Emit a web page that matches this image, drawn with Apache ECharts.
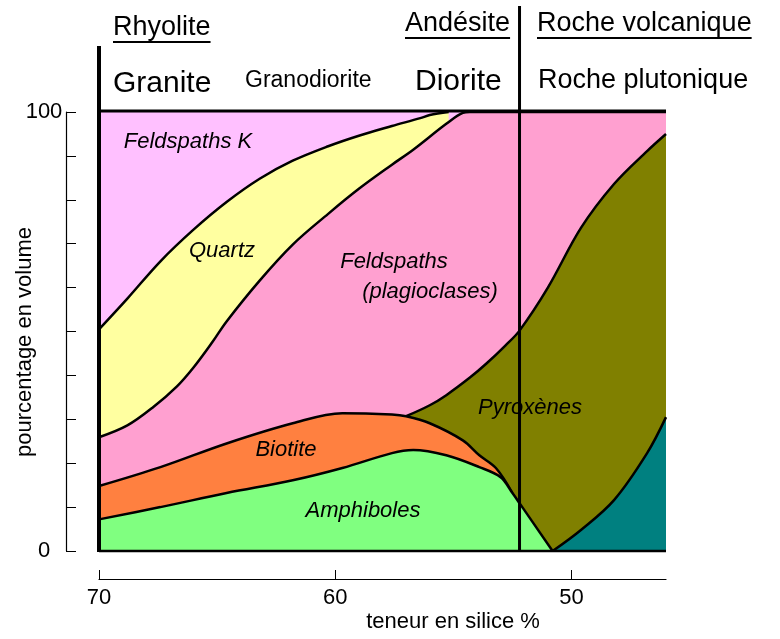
<!DOCTYPE html>
<html>
<head>
<meta charset="utf-8">
<title>Composition minéralogique des roches magmatiques</title>
<script src="https://cdn.jsdelivr.net/npm/echarts@6/dist/echarts.min.js"></script>
<style>
  html, body { margin: 0; padding: 0; background: #fff; }
  #main { width: 780px; height: 639px; }
</style>
</head>
<body>
<div id="main"></div>
<script>
// limites supérieures cumulées : [teneur en silice %, pourcentage en volume]
const feldspathKTop = [[70, 100], [46, 100]];
const quartzTop = [[70, 50.5], [68.8, 57.5], [67.4, 66], [66, 73.2], [64.6, 79.5], [63.2, 84.8], [61.8, 88.9],
  [60.3, 92.2], [59, 94.6], [57.6, 96.8], [56.4, 98.6], [56, 99.3], [55.2, 100]];
const plagioclaseTop = [[70, 25.9], [68.8, 28.6], [67.7, 32.8], [66.7, 37.5], [66, 41.8], [65.2, 47.6], [64.6, 52.3],
  [63.2, 61.6], [61.8, 69.8], [60.3, 76.8], [59, 82.5], [57.6, 88], [56.7, 91.4], [55.3, 97.3], [54.6, 99.8],
  [54.3, 100], [46, 100]];
const pyroxeneTop = [[57, 30.7], [56, 33.2], [55.3, 35.5], [54.3, 39.5], [53.6, 42.7], [52.8, 46.8], [52.2, 50.2],
  [51, 60], [49.6, 73.6], [48.2, 83.6], [46.8, 91.1], [46, 95]];
const biotiteTop = [[70, 14.8], [67.4, 19.1], [64.6, 24.5], [61.8, 29.1], [59.7, 31.4], [57.6, 31.1], [57, 30.7],
  [56, 29.1], [54.6, 25.2], [53.9, 21.8], [53.2, 18.9], [52.5, 13.2]];
const amphiboleTop = [[70, 7.2], [67.4, 10], [64.6, 13.2], [61.8, 16.1], [59.7, 18.9], [57.6, 22.3], [56.7, 23],
  [55.3, 21.8], [53.9, 19.1], [53, 16.8], [52.5, 13.2], [52.2, 10.9], [50.8, 0]];
const olivineTop = [[50.8, 0], [49.6, 4.8], [48.2, 11.6], [46.8, 22.3], [46, 30.5]];

const silicaTicks = [50, 60, 70];
const separatorSilica = 52.2;

const FONT = '"Liberation Sans", Arial, sans-serif';

function layer(name, data, color, z, lineWidth) {
  return {
    name: name,
    type: 'line',
    data: data,
    smooth: 0.35,
    symbol: 'none',
    z: z,
    lineStyle: { color: '#000', width: lineWidth },
    areaStyle: { color: color, opacity: 1 },
    silent: true
  };
}

const chart = echarts.init(document.getElementById('main'));
chart.setOption({
  animation: false,
  backgroundColor: '#fff',
  grid: { left: 99, right: 114, top: 112, bottom: 88, outerBoundsMode: 'none' },
  xAxis: {
    type: 'value', min: 46, max: 70, inverse: true, offset: 28,
    splitLine: { show: false },
    axisLine: { show: true, onZero: false, lineStyle: { color: '#000', width: 1.2 } },
    axisTick: { show: true, inside: true, length: 9, customValues: silicaTicks, lineStyle: { color: '#000' } },
    axisLabel: { customValues: silicaTicks, color: '#000', fontSize: 22, fontFamily: FONT, margin: 8 }
  },
  yAxis: {
    type: 'value', min: 0, max: 100, interval: 10, offset: 33,
    splitLine: { show: false },
    axisLine: { show: true, onZero: false, lineStyle: { color: '#000', width: 1.2 } },
    axisTick: { show: true, inside: true, length: 10, lineStyle: { color: '#000' } },
    axisLabel: {
      color: '#000', fontSize: 22, fontFamily: FONT, margin: 22, align: 'center', padding: [8, 0, 0, 0],
      formatter: v => (v === 0 || v === 100) ? String(v) : ''
    }
  },
  series: [
    layer('Feldspaths K', feldspathKTop, '#ffc0ff', 1, 0),
    layer('Quartz', quartzTop, '#ffffa0', 2, 2.5),
    layer('Feldspaths (plagioclases)', plagioclaseTop, '#ffa0d0', 3, 2.5),
    layer('Pyroxènes', pyroxeneTop, '#808000', 4, 2.5),
    layer('Biotite', biotiteTop, '#ff8040', 5, 2.5),
    layer('Amphiboles', amphiboleTop, '#80ff80', 6, 2.5),
    layer('Olivine', olivineTop, '#008080', 7, 2.5)
  ]
});

// positions en pixels tirées des axes
const xPx = v => chart.convertToPixel({ xAxisIndex: 0 }, v);
const yPx = v => chart.convertToPixel({ yAxisIndex: 0 }, v);
const plotLeft = xPx(70), plotRight = xPx(46), plotTop = yPx(100), plotBottom = yPx(0);
const sepX = xPx(separatorSilica);

const measureCtx = document.createElement('canvas').getContext('2d');
function textWidth(t, size) {
  measureCtx.font = size + 'px ' + FONT;
  return measureCtx.measureText(t).width;
}

const headers = [
  { text: 'Rhyolite', x: 113, y: 28, size: 27, underline: 42 },
  { text: 'Granite', x: 113, y: 84, size: 30 },
  { text: 'Granodiorite', x: 245, y: 81, size: 23 },
  { text: 'Andésite', x: 405, y: 24, size: 27, underline: 38 },
  { text: 'Diorite', x: 415, y: 82, size: 30 },
  { text: 'Roche volcanique', x: 537, y: 24, size: 27, underline: 38 },
  { text: 'Roche plutonique', x: 538, y: 81, size: 27 }
];
const regionLabels = [
  { text: 'Feldspaths K', x: 188, y: 142 },
  { text: 'Quartz', x: 222, y: 251 },
  { text: 'Feldspaths', x: 394, y: 262 },
  { text: '(plagioclases)', x: 430, y: 292 },
  { text: 'Biotite', x: 286, y: 450 },
  { text: 'Amphiboles', x: 363, y: 511 },
  { text: 'Pyroxènes', x: 530, y: 408 }
];

const graphics = [];
const addLine = (x1, y1, x2, y2, w) => graphics.push({
  type: 'line', z: 100, silent: true,
  shape: { x1: x1, y1: y1, x2: x2, y2: y2 },
  style: { stroke: '#000', lineWidth: w }
});

addLine(plotLeft, 46, plotLeft, plotBottom + 1, 4);
addLine(plotLeft - 2, plotTop - 1, plotRight, plotTop - 1, 3);
addLine(plotLeft, plotBottom, plotRight, plotBottom, 2.5);
addLine(sepX, 6, sepX, plotBottom, 3);

headers.forEach(h => {
  graphics.push({
    type: 'text', z: 100, silent: true, x: h.x, y: h.y,
    style: { text: h.text, fill: '#000', font: h.size + 'px ' + FONT, verticalAlign: 'middle', align: 'left' }
  });
  if (h.underline) addLine(h.x, h.underline, h.x + textWidth(h.text, h.size), h.underline, 2.2);
});

regionLabels.forEach(l => {
  graphics.push({
    type: 'text', z: 99, silent: true, x: l.x, y: l.y,
    style: { text: l.text, fill: '#000', font: 'italic 22px ' + FONT, verticalAlign: 'middle', align: 'center' }
  });
});

graphics.push({
  type: 'text', z: 100, silent: true, x: 453, y: 622,
  style: { text: 'teneur en silice %', fill: '#000', font: '22px ' + FONT, verticalAlign: 'middle', align: 'center' }
});
graphics.push({
  type: 'text', z: 100, silent: true, x: 25, y: 342, rotation: Math.PI / 2,
  style: { text: 'pourcentage en volume', fill: '#000', font: '22px ' + FONT, verticalAlign: 'middle', align: 'center' }
});

chart.setOption({ graphic: graphics });
</script>
</body>
</html>
